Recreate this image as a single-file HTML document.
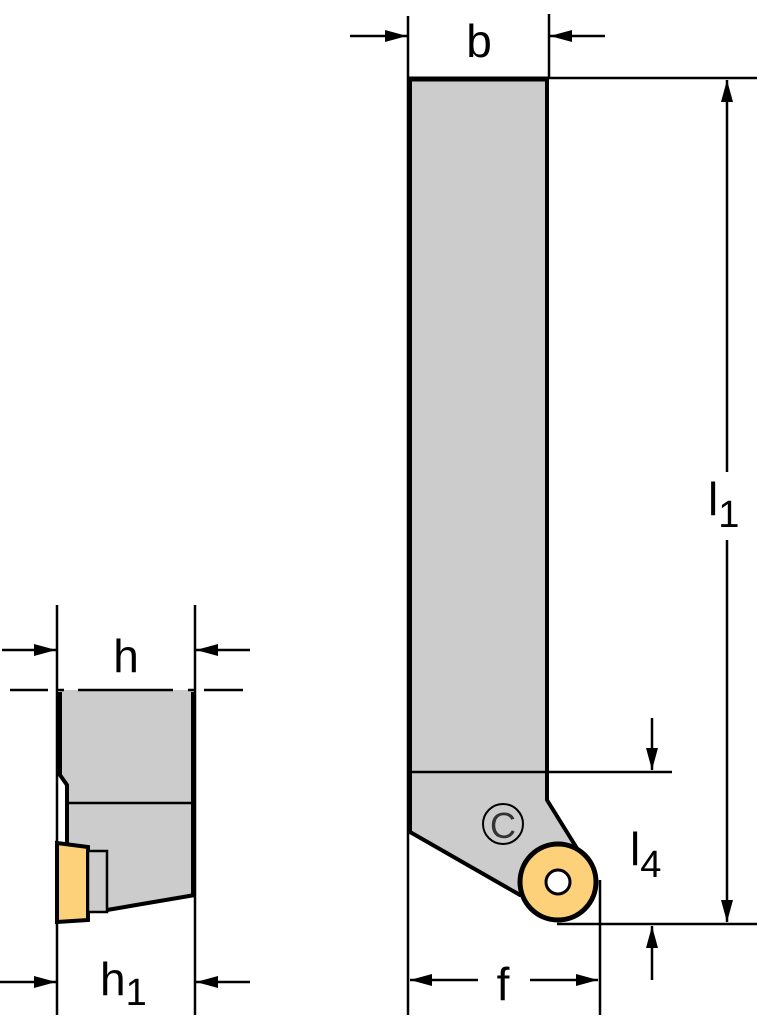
<!DOCTYPE html>
<html><head><style>html,body{margin:0;padding:0;background:#fff}svg{display:block}</style></head>
<body>
<svg width="757" height="1024" viewBox="0 0 757 1024" xmlns="http://www.w3.org/2000/svg">
<defs>
<marker id="a" viewBox="0 0 22 12" refX="22" refY="6" markerWidth="22" markerHeight="12" markerUnits="userSpaceOnUse" orient="auto"><path d="M0,0 L22,6 L0,12z" fill="#000"/></marker>
</defs>
<g stroke="#000" fill="none">
<path d="M410,79 L547,79 L547,800 L578,850 L545,880 L520,895 L410,832 Z" fill="#ccc" stroke-width="4" stroke-linejoin="round"/>
<line x1="410" y1="772" x2="672" y2="772" stroke-width="2.5"/>
<circle cx="558" cy="882" r="38" fill="#fcd17a" stroke-width="5"/>
<circle cx="558" cy="882" r="12" fill="#fff" stroke-width="3"/>
<circle cx="503" cy="824" r="20" stroke-width="2"/>
<text x="503" y="838" font-family="Liberation Sans, sans-serif" font-size="36" text-anchor="middle" fill="#333" stroke="none">C</text>
<line x1="408" y1="16" x2="408" y2="1015" stroke-width="2.5"/>
<line x1="549" y1="14" x2="549" y2="79" stroke-width="2.5"/>
<line x1="408" y1="78" x2="757" y2="78" stroke-width="2.5"/>
<line x1="408" y1="79" x2="549" y2="79" stroke-width="5"/>
<line x1="557" y1="924" x2="757" y2="924" stroke-width="2.5"/>
<line x1="600" y1="880" x2="600" y2="1015" stroke-width="2.5"/>
<line x1="350" y1="36" x2="407" y2="36" stroke-width="2.5" marker-end="url(#a)"/>
<line x1="605" y1="36" x2="550" y2="36" stroke-width="2.5" marker-end="url(#a)"/>
<line x1="727" y1="472" x2="727" y2="80" stroke-width="2.5" marker-end="url(#a)"/>
<line x1="727" y1="540" x2="727" y2="922" stroke-width="2.5" marker-end="url(#a)"/>
<line x1="652" y1="718" x2="652" y2="770" stroke-width="2.5" marker-end="url(#a)"/>
<line x1="652" y1="980" x2="652" y2="926" stroke-width="2.5" marker-end="url(#a)"/>
<line x1="478" y1="980" x2="410" y2="980" stroke-width="2.5" marker-end="url(#a)"/>
<line x1="530" y1="980" x2="598" y2="980" stroke-width="2.5" marker-end="url(#a)"/>
<path d="M60,690 L193,690 L193,895 L107,910 L88,912 L88,920 L57,922 L57,843 L67,843 L67,785 L60,775 Z" fill="#ccc" stroke="none"/>
<path d="M60,692 L60,775 L67,785 L67,843" stroke-width="4"/>
<line x1="193" y1="692" x2="193" y2="895" stroke-width="4"/>
<line x1="67" y1="803" x2="193" y2="803" stroke-width="2.5"/>
<path d="M107,910 L195,895" stroke-width="4"/>
<path d="M57,843 L88,847 L88,920 L57,922 Z" fill="#fcd17a" stroke-width="4"/>
<rect x="88" y="851" width="19" height="61" fill="#ccc" stroke-width="2.5"/>
<line x1="57" y1="605" x2="57" y2="1015" stroke-width="2.5"/>
<line x1="195" y1="605" x2="195" y2="1015" stroke-width="2.5"/>
<path d="M10,690 H48 M58,690 H64 M78,690 H173 M188,690 H194 M204,690 H243" stroke-width="2.5"/>
<line x1="2" y1="650" x2="56" y2="650" stroke-width="2.5" marker-end="url(#a)"/>
<line x1="250" y1="650" x2="196" y2="650" stroke-width="2.5" marker-end="url(#a)"/>
<line x1="0" y1="982" x2="56" y2="982" stroke-width="2.5" marker-end="url(#a)"/>
<line x1="250" y1="982" x2="196" y2="982" stroke-width="2.5" marker-end="url(#a)"/>
</g>
<g font-family="Liberation Sans, DejaVu Sans, sans-serif" fill="#000">
<text x="479" y="57" font-size="46" text-anchor="middle">b</text>
<text x="126" y="672" font-size="46" text-anchor="middle">h</text>
<text x="100" y="995" font-size="46">h<tspan font-size="38" dy="10">1</tspan></text>
<text x="708" y="515" font-size="46">l<tspan font-size="38" dy="12">1</tspan></text>
<text x="630" y="865" font-size="46">l<tspan font-size="38" dy="12">4</tspan></text>
<text x="503" y="1000" font-size="46" text-anchor="middle">f</text>
</g>
</svg>
</body></html>
